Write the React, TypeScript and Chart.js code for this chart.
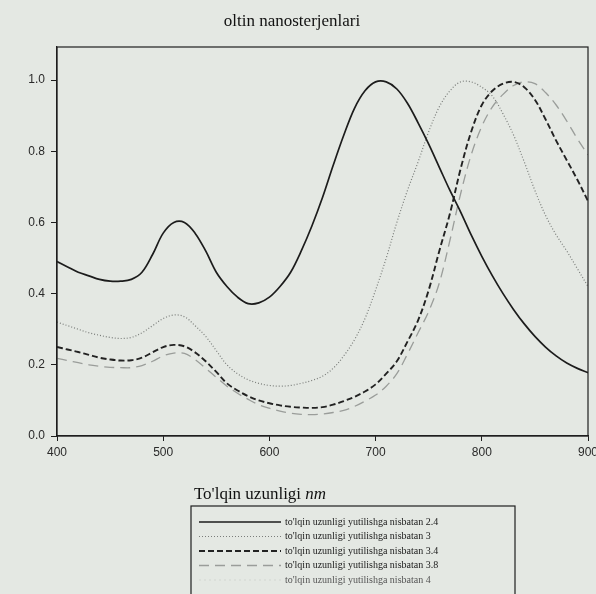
import React, { useEffect, useRef } from "react";
import { Chart, registerables } from "chart.js";

Chart.register(...registerables);

// ---- data ----
const chartTitle = "oltin nanosterjenlari";
const xTitleMain = "To'lqin uzunligi ";
const xTitleUnit = "nm";

const wavelengths = [
  400, 410, 420, 430, 440, 450, 460, 470, 480, 490,
  500, 510, 520, 530, 540, 550, 560, 570, 580, 590,
  600, 610, 620, 630, 640, 650, 660, 670, 680, 690,
  700, 710, 720, 730, 740, 750, 760, 770, 780, 790,
  800, 810, 820, 830, 840, 850, 860, 870, 880, 890, 900,
];

const ratio24 = [
  0.49, 0.475, 0.46, 0.45, 0.44, 0.435, 0.435, 0.44, 0.46, 0.51,
  0.57, 0.6, 0.6, 0.57, 0.52, 0.46, 0.42, 0.39, 0.372, 0.374,
  0.39, 0.42, 0.46, 0.52, 0.59, 0.67, 0.76, 0.845, 0.92, 0.97,
  0.995, 0.995, 0.975, 0.935, 0.88, 0.82, 0.755, 0.69, 0.63, 0.565,
  0.505, 0.45, 0.4, 0.355, 0.315, 0.28, 0.25, 0.225, 0.205, 0.19, 0.178,
];

const ratio3 = [
  0.32, 0.31, 0.3, 0.29, 0.283, 0.277, 0.274, 0.277, 0.29, 0.31,
  0.33, 0.34, 0.335, 0.31, 0.28, 0.24, 0.2, 0.175, 0.158, 0.148,
  0.142, 0.14, 0.142, 0.148, 0.156, 0.168, 0.19, 0.225, 0.27, 0.33,
  0.41, 0.5, 0.6, 0.69, 0.77, 0.855, 0.925, 0.97, 0.995, 0.995,
  0.98, 0.955, 0.905, 0.845, 0.77, 0.69, 0.62, 0.565, 0.52, 0.47, 0.42,
];

const ratio34 = [
  0.25, 0.243, 0.236, 0.228, 0.22, 0.215, 0.212, 0.213, 0.22, 0.235,
  0.25, 0.256, 0.252, 0.235, 0.21, 0.18, 0.148, 0.128, 0.112, 0.1,
  0.092, 0.086, 0.082, 0.08, 0.079, 0.081, 0.088, 0.098, 0.11, 0.125,
  0.145, 0.175, 0.21, 0.265, 0.325, 0.41, 0.52, 0.625, 0.75, 0.855,
  0.93, 0.97, 0.99, 0.995, 0.98, 0.945, 0.89, 0.83, 0.775, 0.72, 0.66,
];

const ratio38 = [
  0.218, 0.212, 0.206, 0.2, 0.196, 0.193, 0.192, 0.192, 0.198, 0.21,
  0.225, 0.233, 0.232, 0.215, 0.19, 0.165, 0.14, 0.12, 0.103, 0.088,
  0.078, 0.07, 0.064, 0.061, 0.06, 0.062, 0.066, 0.072, 0.083, 0.098,
  0.115, 0.14, 0.175, 0.23, 0.29, 0.35, 0.43, 0.55, 0.68, 0.79,
  0.87, 0.925, 0.96, 0.985, 0.995, 0.99, 0.965, 0.93, 0.885, 0.835, 0.79,
];

const ratio4: number[] = [];

const seriesLabels = [
  "to'lqin uzunligi yutilishga nisbatan 2.4",
  "to'lqin uzunligi yutilishga nisbatan 3",
  "to'lqin uzunligi yutilishga nisbatan 3.4",
  "to'lqin uzunligi yutilishga nisbatan 3.8",
  "to'lqin uzunligi yutilishga nisbatan 4",
];

const xTickValues = [400, 500, 600, 700, 800, 900];
const yTickValues = [0, 0.2, 0.4, 0.6, 0.8, 1.0];

// ---- styles ----
const PAPER = "#e4e8e3";
const INK = "#1e1e1e";

const seriesStyles = [
  { color: "#1c1c1c", width: 1.7, dash: [] as number[] },
  { color: "#7a7d7a", width: 1.2, dash: [1, 2] },
  { color: "#222222", width: 1.9, dash: [6, 3] },
  { color: "#9a9d9a", width: 1.3, dash: [10, 6] },
  { color: "#d2d6d1", width: 1.0, dash: [2, 3] },
];

const seriesValues = [ratio24, ratio3, ratio34, ratio38, ratio4];

const decorPlugin = {
  id: "decor",
  beforeDraw(chart: any) {
    const { ctx, width, height } = chart;
    ctx.save();
    ctx.fillStyle = PAPER;
    ctx.fillRect(0, 0, width, height);
    ctx.restore();
  },
  afterDraw(chart: any) {
    const { ctx, chartArea: a } = chart;
    ctx.save();
    // frame
    ctx.strokeStyle = INK;
    ctx.lineWidth = 1.2;
    ctx.setLineDash([]);
    ctx.strokeRect(a.left, a.top, a.right - a.left, a.bottom - a.top);

    // title
    ctx.fillStyle = "#111";
    ctx.textAlign = "center";
    ctx.textBaseline = "middle";
    ctx.font = '17px "Liberation Serif"';
    ctx.fillText(chartTitle, 292, 22);

    // x title with italic unit
    ctx.font = '17px "Liberation Serif"';
    const w1 = ctx.measureText(xTitleMain).width;
    ctx.font = 'italic 17px "Liberation Serif"';
    const w2 = ctx.measureText(xTitleUnit).width;
    const xs = 260 - (w1 + w2) / 2;
    ctx.textAlign = "left";
    ctx.font = '17px "Liberation Serif"';
    ctx.fillText(xTitleMain, xs, 495);
    ctx.font = 'italic 17px "Liberation Serif"';
    ctx.fillText(xTitleUnit, xs + w1, 495);

    // legend box
    const bx = 191, by = 506, bw = 324, bh = 100;
    ctx.strokeStyle = INK;
    ctx.lineWidth = 1.2;
    ctx.strokeRect(bx, by, bw, bh);
    ctx.font = '10px "Liberation Serif"';
    ctx.textBaseline = "middle";
    chart.data.datasets.forEach((ds: any, i: number) => {
      const y = by + 16 + i * 14.5;
      ctx.save();
      ctx.strokeStyle = ds.borderColor;
      ctx.lineWidth = ds.borderWidth;
      ctx.setLineDash(ds.borderDash || []);
      ctx.beginPath();
      ctx.moveTo(bx + 8, y);
      ctx.lineTo(bx + 90, y);
      ctx.stroke();
      ctx.restore();
      ctx.fillStyle = i === 4 ? "#555" : "#1a1a1a";
      ctx.fillText(ds.label, bx + 94, y);
    });
    ctx.restore();
  },
};

export default function App() {
  const canvasRef = useRef<HTMLCanvasElement | null>(null);

  useEffect(() => {
    if (!canvasRef.current) return;
    const datasets = seriesValues.map((vals, i) => ({
      label: seriesLabels[i],
      data: vals.map((v, j) => ({ x: wavelengths[j], y: v })),
      borderColor: seriesStyles[i].color,
      borderWidth: seriesStyles[i].width,
      borderDash: seriesStyles[i].dash,
      pointRadius: 0,
      fill: false,
      tension: 0.35,
    }));

    const chart = new Chart(canvasRef.current, {
      type: "line",
      data: { datasets },
      options: {
        responsive: false,
        animation: false,
        layout: { padding: { left: 16, right: 24, top: 47, bottom: 130 } },
        plugins: {
          legend: { display: false },
          title: { display: false },
          tooltip: { enabled: false },
        },
        scales: {
          x: {
            type: "linear",
            min: 400,
            max: 900,
            afterFit: (s: any) => { s.height = 28; },
            afterBuildTicks: (s: any) => { s.ticks = xTickValues.map((v) => ({ value: v })); },
            ticks: {
              color: "#2a2a2a",
              font: { family: '"Liberation Sans"', size: 12 },
              padding: 4,
              maxRotation: 0,
              callback: (v: any) => String(v),
            },
            grid: { drawOnChartArea: false, drawTicks: true, tickLength: 5, color: INK, lineWidth: 1 },
            border: { display: true, color: INK, width: 1.2 },
          },
          y: {
            type: "linear",
            min: 0,
            max: 1.093,
            afterFit: (s: any) => { s.width = 41; },
            afterBuildTicks: (s: any) => { s.ticks = yTickValues.map((v) => ({ value: v })); },
            ticks: {
              color: "#2a2a2a",
              font: { family: '"Liberation Sans"', size: 12 },
              padding: 6,
              callback: (v: any) => Number(v).toFixed(1),
            },
            grid: { drawOnChartArea: false, drawTicks: true, tickLength: 6, color: INK, lineWidth: 1 },
            border: { display: true, color: INK, width: 1.2 },
          },
        },
      },
      plugins: [decorPlugin],
    });
    return () => chart.destroy();
  }, []);

  return (
    <div
      style={{
        position: "fixed",
        left: 0,
        top: 0,
        width: 596,
        height: 594,
        overflow: "hidden",
        background: PAPER,
      }}
    >
      <canvas ref={canvasRef} width={612} height={594} style={{ display: "block" }} />
    </div>
  );
}
